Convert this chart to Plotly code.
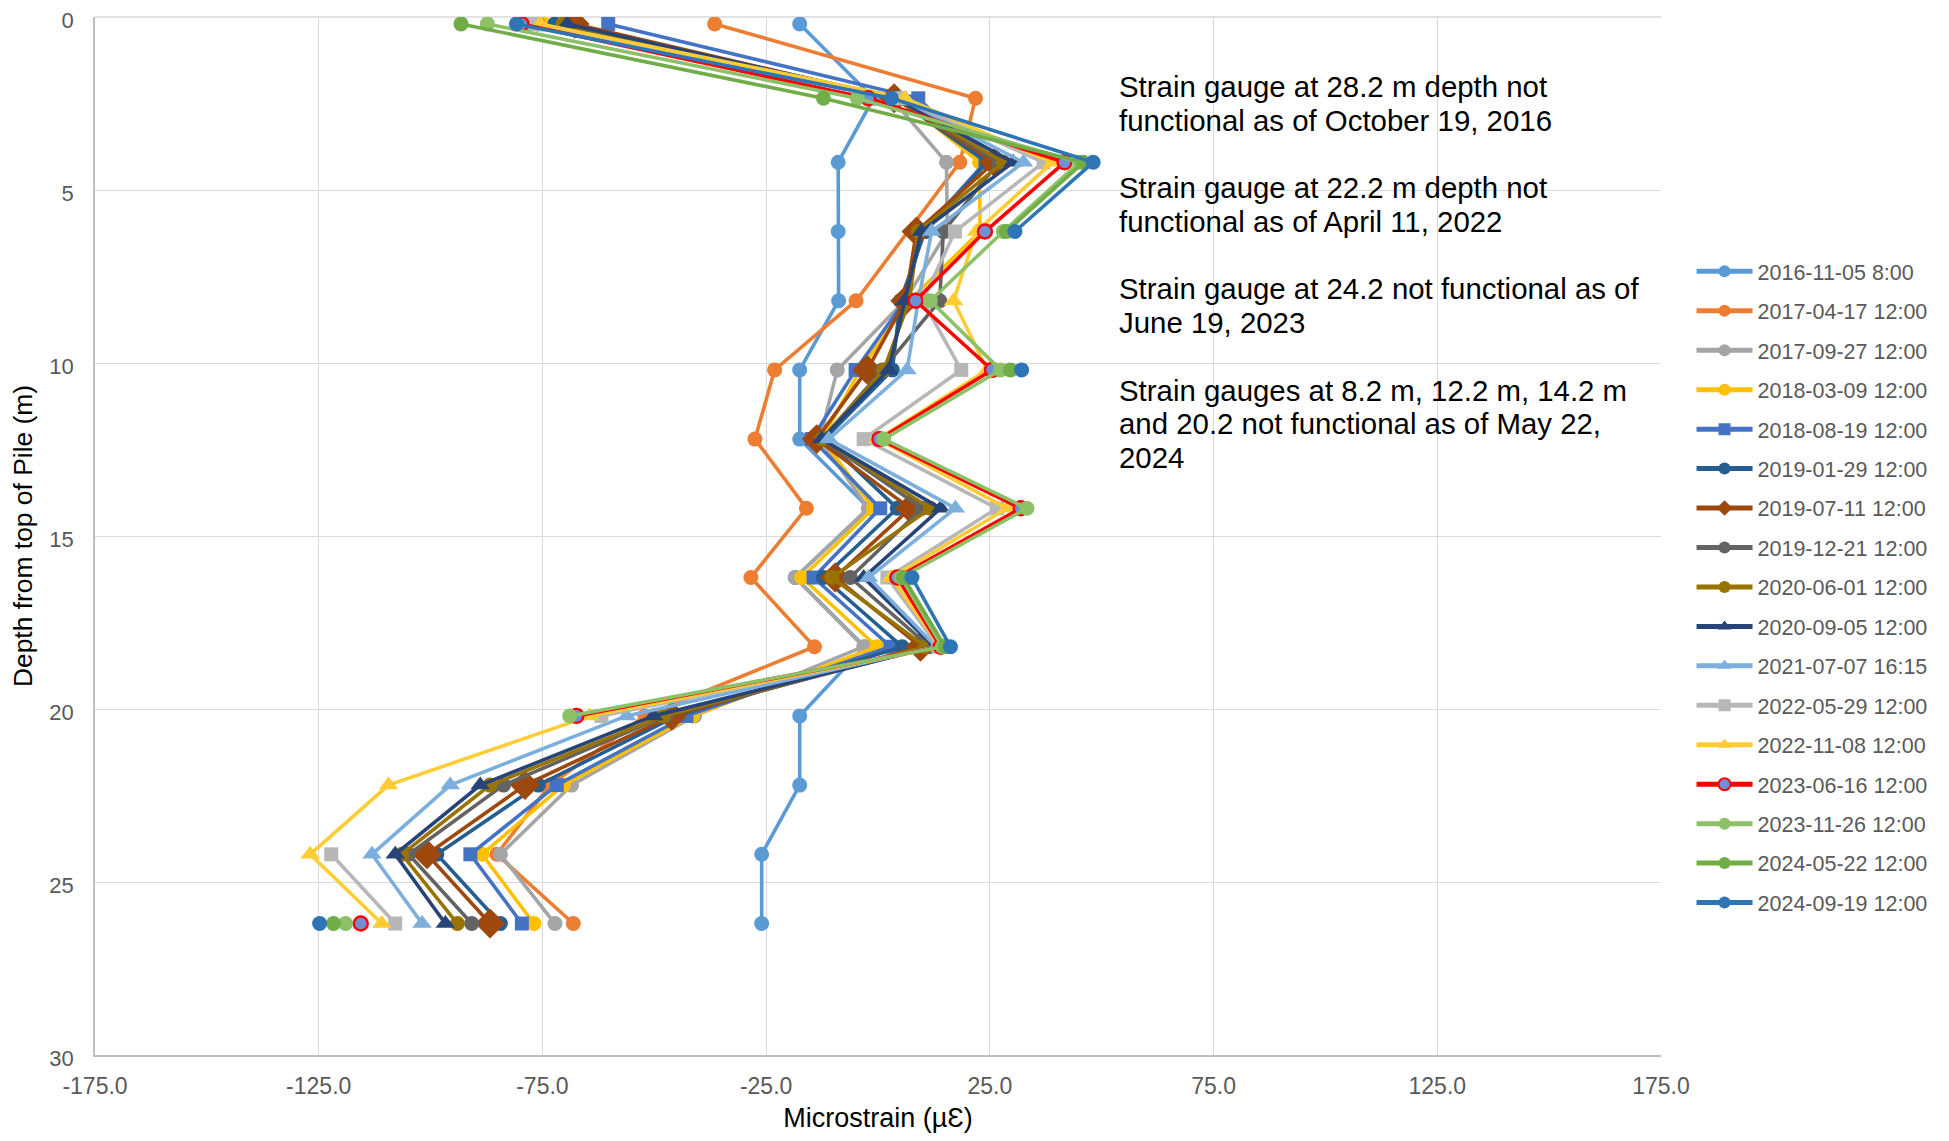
import plotly.graph_objects as go

# ---------------- data ----------------
depths = [0.2, 2.35, 4.2, 6.2, 8.2, 10.2, 12.2, 14.2, 16.2, 18.2, 20.2, 22.2, 24.2, 26.2]

series_names = [
    "2016-11-05 8:00", "2017-04-17 12:00", "2017-09-27 12:00", "2018-03-09 12:00",
    "2018-08-19 12:00", "2019-01-29 12:00", "2019-07-11 12:00", "2019-12-21 12:00",
    "2020-06-01 12:00", "2020-09-05 12:00", "2021-07-07 16:15", "2022-05-29 12:00",
    "2022-11-08 12:00", "2023-06-16 12:00", "2023-11-26 12:00", "2024-05-22 12:00",
    "2024-09-19 12:00",
]

s_2016_11_05 = [-17.5, -1.0, -8.9, -8.9, -8.8, -17.5, -17.5, -2.0, -18.5, -3.0, -17.5, -17.5, -26.0, -26.0]
s_2017_04_17 = [-36.5, 21.8, 18.3, None, -4.9, -23.1, -27.5, -16.0, -28.4, -14.2, -52.1, -73.3, -85.2, -68.1]
s_2017_09_27 = [-77.5, 3.0, 15.3, 15.5, 6.0, -9.1, -13.0, -2.2, -18.5, -3.2, -41.0, -68.5, -84.4, -72.2]
s_2018_03_09 = [-74.8, 5.0, 22.7, 22.8, 7.0, -4.0, -12.5, -1.0, -17.0, -0.2, -41.5, -70.3, -88.5, -76.9]
s_2018_08_19 = [-60.3, 9.0, 24.0, 10.0, 6.0, -5.0, -14.8, 0.5, -14.4, 2.8, -42.8, -71.8, -91.1, -79.6]
s_2019_01_29 = [-72.2, 4.0, 24.3, 10.5, 5.0, 3.2, -12.0, 4.3, -12.2, 5.4, -45.0, -75.9, -98.6, -84.4]
s_2019_07_11 = [-67.8, 3.6, 26.0, 8.6, 6.1, -2.4, -13.7, 7.2, -9.6, 9.5, -46.1, -78.9, -100.8, -86.7]
s_2019_12_21 = [-76.0, 4.0, 27.0, 14.6, 13.8, 1.0, -12.5, 9.9, -6.2, 11.5, -47.5, -83.7, -104.9, -90.8]
s_2020_06_01 = [-70.4, 4.0, 28.0, 9.0, 7.0, 1.3, -12.5, 11.7, -10.3, 10.6, -48.0, -86.7, -106.4, -94.0]
s_2020_09_05 = [-69.5, 4.0, 30.2, 9.7, 6.0, 2.4, -12.6, 14.0, -3.2, 12.5, -50.2, -88.9, -107.9, -96.7]
s_2021_07_07 = [-77.1, 5.0, 32.5, 12.0, 9.0, 6.5, -11.0, 17.3, -2.1, 13.0, -56.2, -95.6, -113.1, -101.9]
s_2022_05_29 = [-76.5, 5.0, 37.0, 17.2, 10.0, 18.6, -3.2, 26.6, 2.1, 13.5, -61.8, None, -122.2, -107.9]
s_2022_11_08 = [-75.5, 6.0, 39.0, 22.0, 16.9, 24.4, 0.0, 28.9, 3.0, 14.0, -64.4, -109.4, -126.9, -110.9]
s_2023_06_16 = [-79.7, -2.2, 41.7, 23.9, 8.4, 25.5, 0.3, 31.9, 4.3, 14.0, -67.4, None, None, -115.6]
s_2023_11_26 = [-87.3, -4.6, 45.0, 28.0, 11.7, 27.4, 1.3, 33.3, 5.2, 14.4, -68.9, None, None, -119.0]
s_2024_05_22 = [-93.2, -12.2, 45.9, 28.7, None, 29.6, None, None, 5.7, 15.0, None, None, None, -121.7]
s_2024_09_19 = [-80.8, 3.0, 48.1, 30.6, None, 32.1, None, None, 7.6, 16.2, None, None, None, -124.8]

series_values = [
    s_2016_11_05, s_2017_04_17, s_2017_09_27, s_2018_03_09, s_2018_08_19, s_2019_01_29,
    s_2019_07_11, s_2019_12_21, s_2020_06_01, s_2020_09_05, s_2021_07_07, s_2022_05_29,
    s_2022_11_08, s_2023_06_16, s_2023_11_26, s_2024_05_22, s_2024_09_19,
]

x_tick_vals = [-175, -125, -75, -25, 25, 75, 125, 175]
x_tick_text = ["-175.0", "-125.0", "-75.0", "-25.0", "25.0", "75.0", "125.0", "175.0"]
y_tick_vals = [0, 5, 10, 15, 20, 25, 30]

notes = [
    ["Strain gauge at 28.2 m depth not", "functional as of October 19, 2016"],
    ["Strain gauge at 22.2 m depth not", "functional as of April 11, 2022"],
    ["Strain gauge at 24.2 not functional as of", "June 19, 2023"],
    ["Strain gauges at 8.2 m, 12.2 m, 14.2 m", "and 20.2 not functional as of May 22,", "2024"],
]

# ---------------- styles ----------------
line_colors = ["#5B9BD5", "#ED7D31", "#A5A5A5", "#FFC000", "#4472C4", "#255E91", "#9E480E",
               "#636363", "#997300", "#264478", "#7CAFDD", "#B7B7B7", "#FFCD33", "#FF0000",
               "#8CC168", "#70AD47", "#2E75B6"]
marker_fill = list(line_colors)
marker_fill[13] = "#6F90D4"
symbols = ["circle", "circle", "circle", "circle", "square", "circle", "diamond", "circle",
           "circle", "triangle-up", "triangle-up", "square", "triangle-up", "circle",
           "circle", "circle", "circle"]
sizes = [15, 15, 15, 15, 14, 15, 23, 15, 15, 17, 17, 14, 17, 14, 15, 15, 15]

FONT = "Arial, Liberation Sans, sans-serif"

fig = go.Figure()
for i, (name, vals) in enumerate(zip(series_names, series_values)):
    mline = dict(width=2.4, color="#FF0000") if i == 13 else dict(width=0)
    fig.add_trace(go.Scatter(
        x=vals, y=depths, name=name, mode="lines+markers",
        legendgroup=name,
        connectgaps=(i == 1),
        line=dict(color=line_colors[i], width=3.6),
        marker=dict(symbol=symbols[i], size=sizes[i], color=marker_fill[i], line=mline),
    ))

# page has an 8 px body margin; figure coords = page coords - 8
OFF = 8
W, H = 1949 - 2 * OFF, 1141 - 2 * OFF
PL, PR, PT, PB = 95, 1661, 17, 1055          # plot area in page pixels
L, T = PL - OFF, PT - OFF
plot_w, plot_h = PR - PL, PB - PT
R = W - L - plot_w
B = H - T - plot_h

fig.update_layout(
    width=W, height=H,
    margin=dict(l=L, r=R, t=T, b=B, autoexpand=False),
    paper_bgcolor="white", plot_bgcolor="white",
    font=dict(family=FONT, color="#595959", size=21),
    showlegend=True,
    legend=dict(
        x=1.0195, xanchor="left", y=0.4505, yanchor="middle",
        font=dict(family=FONT, size=21.5, color="#595959"),
        tracegroupgap=8.5, itemsizing="constant", itemwidth=56, bgcolor="rgba(0,0,0,0)",
    ),
    xaxis=dict(
        range=[-175, 175], tickmode="array", tickvals=x_tick_vals, ticktext=x_tick_text,
        showgrid=True, gridcolor="#D9D9D9", gridwidth=1.3, zeroline=False, automargin=False,
        showline=True, linecolor="#BFBFBF", linewidth=1.5, ticklabeloverflow="allow",
        tickfont=dict(family=FONT, size=23, color="#595959"), ticks="", ticklabelstandoff=10,
        title=dict(text="Microstrain (µƐ)", font=dict(family=FONT, size=27, color="#000000"), standoff=21),
    ),
    yaxis=dict(
        range=[30, 0], tickmode="array", tickvals=y_tick_vals,
        showgrid=True, gridcolor="#D9D9D9", gridwidth=1.3, zeroline=False, automargin=False,
        showline=True, linecolor="#BFBFBF", linewidth=1.5, ticklabeloverflow="allow",
        tickfont=dict(family=FONT, size=22, color="#595959"), ticks="", ticklabelstandoff=15,
        ticklabelshift=-3,
        title=dict(text="Depth from top of Pile (m)", font=dict(family=FONT, size=26.4, color="#000000"), standoff=14),
    ),
)

# top border of the plot area (gridline at depth 0)
fig.add_shape(type="line", xref="paper", yref="paper", x0=0, x1=1, y0=1, y1=1,
              line=dict(color="#D9D9D9", width=1.3), layer="below")

# notes text: page-pixel centre of each line
note_x_px = 1116.5
note_line_px = [[87, 120.6], [187.7, 221.3], [288.4, 322], [390.3, 423.9, 457.4]]
for para, ys in zip(notes, note_line_px):
    for txt, ypx in zip(para, ys):
        fig.add_annotation(
            text=txt, xref="paper", yref="paper",
            x=(note_x_px - PL) / plot_w, y=(PB - ypx) / plot_h,
            xanchor="left", yanchor="middle", showarrow=False, align="left",
            font=dict(family=FONT, size=29.4, color="#000000"),
        )

fig.write_html("out.html")
